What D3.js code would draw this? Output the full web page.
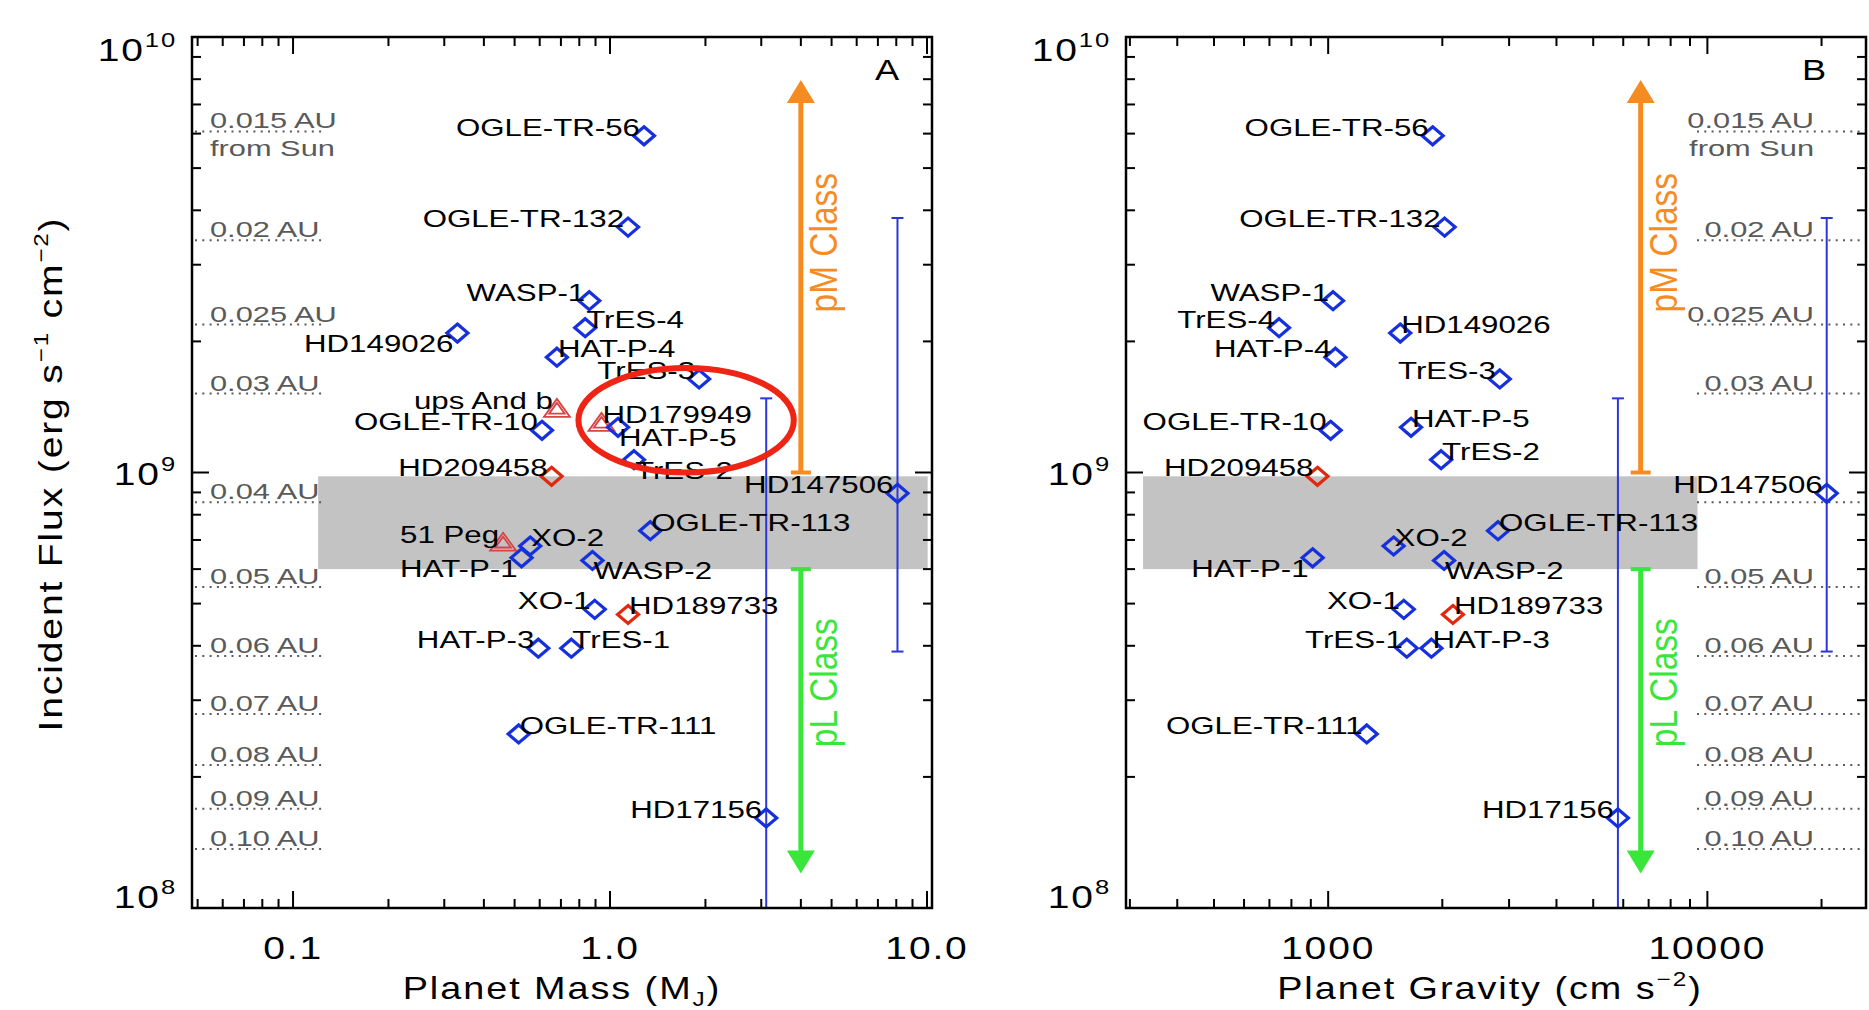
<!DOCTYPE html>
<html>
<head>
<meta charset="utf-8">
<script src="https://cdn.jsdelivr.net/npm/d3@7"></script>
<style>
  body { margin: 0; background: #fff; }
  svg { display: block; }
  text { font-family: "Liberation Sans", Arial, sans-serif; }
</style>
</head>
<body>
<div id="chart"></div>
<script>
// ---- data ----
var names   = ["OGLE-TR-56","OGLE-TR-132","WASP-1","TrES-4","HD149026","HAT-P-4","TrES-3","ups And b","HD179949",
               "OGLE-TR-10","HAT-P-5","TrES-2","HD209458","HD147506","51 Peg","XO-2","HAT-P-1","WASP-2",
               "OGLE-TR-113","XO-1","HD189733","HAT-P-3","TrES-1","OGLE-TR-111","HD17156"];
var mass    = [1.28,1.14,0.86,0.835,0.33,0.68,1.91,0.68,0.94,
               0.61,1.06,1.19,0.654,8.07,0.46,0.56,0.526,0.88,
               1.34,0.895,1.14,0.594,0.755,0.515,3.11];
// no gravity for the radial-velocity planets (triangles)
var gravity = [1886,2028,1030,742,1549,1045,2835,null,null,
               1015,1654,1985,937,20640,null,1488,910,2021,
               2805,1583,2133,1872,1612,1264,5809];
var flux    = [5.93e9,3.66e9,2.48e9,2.15e9,2.09e9,1.84e9,1.64e9,1.40e9,1.30e9,
               1.25e9,1.27e9,1.07e9,9.8e8,8.96e8,6.9e8,6.78e8,6.37e8,6.28e8,
               7.35e8,4.85e8,4.72e8,3.95e8,3.95e8,2.51e8,1.61e8];
// b = blue diamond, r = red diamond, t = red triangle
var kind    = ["b","b","b","b","b","b","b","t","t",
               "b","b","b","r","b","t","b","b","b",
               "b","b","r","b","b","b","b"];

// where each name sits relative to its marker (L left, R right, LB/RB one line lower)
var placeA  = ["L","L","L","R","LB","R","L","L","R",
               "L","RB","RB","L","L","L","R","LB","RB",
               "R","L","R","L","R","R","L"];
var placeB  = ["L","L","L","L","R","L","L","","",
               "L","R","R","L","L","","R","LB","RB",
               "R","L","R","R","L","L","L"];

// flux error bars
var errNames = ["HD17156","HD147506"];
var errHigh  = [1.48e9, 3.84e9];
var errLow   = [1e8, 3.88e8];   // HD17156 bar runs to the bottom axis

// orbital distance reference lines
var auLabels = ["0.015 AU","0.02 AU","0.025 AU","0.03 AU","0.04 AU","0.05 AU",
                "0.06 AU","0.07 AU","0.08 AU","0.09 AU","0.10 AU"];
var auFlux   = [6.07e9,3.415e9,2.186e9,1.518e9,8.54e8,5.46e8,
                3.79e8,2.79e8,2.13e8,1.69e8,1.366e8];

// grey transition band
var bandFlux  = [6.0e8, 9.8e8];
var bandMassA = [0.12, 10.05];
var bandGravB = [325, 9420];

// class arrows
var pmFlux = [1e9, 7.97e9];
var plFlux = [6e8, 1.2e8];
var pmTextFlux = 3.37e9;
var plTextFlux = 3.29e8;
var arrowMass = 4.0;
var arrowGrav = 6670;

// highlighted region in panel A
var ellMass = [0.795, 3.8];
var ellFlux = [1.0e9, 1.738e9];

var W = 1869, H = 1010;
var top_y = 37, bottom_y = 908;

var blue = "#1530dc", red = "#e3280f", triRed = "#d84444",
    errBlue = "#2b38d6", orange = "#f68b1f", green = "#3ae63a",
    grey = "#5a5a5a";

var svg = d3.select("#chart").append("svg")
    .attr("width", W).attr("height", H);

var y = d3.scaleLog().domain([1e8, 1e10]).range([bottom_y, top_y]);

// horizontally stretched text (the original font is much wider than Arial)
function stext(g, x, yy, size, sx, anchor, fill) {
  return g.append("text")
    .attr("transform", "translate(" + x + "," + yy + ") scale(" + sx + ",1)")
    .attr("text-anchor", anchor)
    .style("font-size", size + "px")
    .style("fill", fill || "#000");
}

var panels = [
  { id: "A", left: 192, right: 932, xVals: mass, domain: [0.048, 10.37],
    ticks: [0.1, 1, 10], tickText: ["0.1", "1.0", "10.0"],
    place: placeA, band: bandMassA, arrowX: arrowMass, auSide: "left" },
  { id: "B", left: 1126, right: 1866, xVals: gravity, domain: [293, 26200],
    ticks: [1000, 10000], tickText: ["1000", "10000"],
    place: placeB, band: bandGravB, arrowX: arrowGrav, auSide: "right" }
];

panels.forEach(function(p, pi) {
  var g = svg.append("g");
  var x = d3.scaleLog().domain(p.domain).range([p.left, p.right]);

  // grey band
  g.append("rect")
    .attr("x", x(p.band[0])).attr("width", x(p.band[1]) - x(p.band[0]))
    .attr("y", y(bandFlux[1])).attr("height", y(bandFlux[0]) - y(bandFlux[1]))
    .style("fill", "#c3c3c3");

  // AU lines + labels
  auLabels.forEach(function(lab, i) {
    var yy = y(auFlux[i]);
    var x0 = p.auSide == "left" ? p.left + 3 : p.right - 169;
    var x1 = p.auSide == "left" ? p.left + 132 : p.right;
    g.append("line").attr("x1", x0).attr("x2", x1).attr("y1", yy).attr("y2", yy)
      .style("stroke", grey).style("stroke-width", 2).style("stroke-dasharray", "2,5.3");
    if (p.id == "B" && lab == "0.04 AU") return; // covered by HD147506 label in the original
    var tx = p.auSide == "left" ? p.left + 18 : p.right - 52;
    var an = p.auSide == "left" ? "start" : "end";
    stext(g, tx, yy - 3, 22, 1.4, an, grey).text(lab);
    if (i == 0) stext(g, tx, yy + 25, 22, 1.4, an, grey).text("from Sun");
  });

  // error bars
  errNames.forEach(function(n, i) {
    var k = names.indexOf(n);
    var xx = x(p.xVals[k]);
    g.append("line").attr("x1", xx).attr("x2", xx)
      .attr("y1", y(errHigh[i])).attr("y2", y(errLow[i]))
      .style("stroke", errBlue).style("stroke-width", 2);
    [errHigh[i], errLow[i]].forEach(function(v) {
      if (v <= 1e8) return;
      g.append("line").attr("x1", xx - 6).attr("x2", xx + 6).attr("y1", y(v)).attr("y2", y(v))
        .style("stroke", errBlue).style("stroke-width", 2);
    });
  });

  // class arrows
  var ax = x(p.arrowX);
  function arrow(fl, col) {
    var y0 = y(fl[0]), y1 = y(fl[1]);
    var dir = y1 < y0 ? 1 : -1;
    g.append("line").attr("x1", ax).attr("x2", ax).attr("y1", y0).attr("y2", y1 + dir * 20)
      .style("stroke", col).style("stroke-width", 5);
    g.append("line").attr("x1", ax - 10).attr("x2", ax + 10).attr("y1", y0).attr("y2", y0)
      .style("stroke", col).style("stroke-width", 4);
    g.append("path")
      .attr("d", "M" + ax + "," + y1 + "L" + (ax - 14) + "," + (y1 + dir * 23) + "L" + (ax + 14) + "," + (y1 + dir * 23) + "Z")
      .style("fill", col);
  }
  arrow(pmFlux, orange);
  arrow(plFlux, green);
  g.append("text")
    .attr("transform", "translate(" + (ax + 36) + "," + y(pmTextFlux) + ") rotate(-90) scale(0.88,1)")
    .attr("text-anchor", "middle").style("font-size", "38px").style("fill", orange)
    .text("pM Class");
  g.append("text")
    .attr("transform", "translate(" + (ax + 36) + "," + y(plTextFlux) + ") rotate(-90) scale(0.88,1)")
    .attr("text-anchor", "middle").style("font-size", "38px").style("fill", green)
    .text("pL Class");

  // markers
  names.forEach(function(n, i) {
    if (p.xVals[i] == null) return;
    var xx = x(p.xVals[i]), yy = y(flux[i]);
    if (kind[i] == "t") {
      [1, 0.6].forEach(function(s) {
        g.append("path")
          .attr("d", "M" + xx + "," + (yy - 10 * s) + "L" + (xx - 13 * s) + "," + (yy + 8 * s) + "L" + (xx + 13 * s) + "," + (yy + 8 * s) + "Z")
          .style("fill", "none").style("stroke", triRed).style("stroke-width", 1.8);
      });
    } else {
      g.append("path")
        .attr("d", "M" + xx + "," + (yy - 9) + "L" + (xx + 10.5) + "," + yy + "L" + xx + "," + (yy + 9) + "L" + (xx - 10.5) + "," + yy + "Z")
        .style("fill", "none").style("stroke", kind[i] == "r" ? red : blue).style("stroke-width", 3.2);
    }
  });

  // names
  names.forEach(function(n, i) {
    var pl = p.place[i];
    if (!pl || p.xVals[i] == null) return;
    var xx = x(p.xVals[i]), yy = y(flux[i]);
    var left = pl.charAt(0) == "L";
    var dy = pl.length > 1 ? 19 : 0;
    stext(g, xx + (left ? -4 : 1), yy + dy, 23.5, 1.33, left ? "end" : "start").text(n);
  });

  // red ellipse (panel A only)
  if (p.id == "A") {
    var ex0 = x(ellMass[0]), ex1 = x(ellMass[1]), ey0 = y(ellFlux[1]), ey1 = y(ellFlux[0]);
    g.append("ellipse")
      .attr("cx", (ex0 + ex1) / 2).attr("cy", (ey0 + ey1) / 2)
      .attr("rx", (ex1 - ex0) / 2).attr("ry", (ey1 - ey0) / 2)
      .style("fill", "none").style("stroke", "#ee2414").style("stroke-width", 6);
  }

  // frame and ticks
  g.append("rect").attr("x", p.left).attr("y", top_y)
    .attr("width", p.right - p.left).attr("height", bottom_y - top_y)
    .style("fill", "none").style("stroke", "#000").style("stroke-width", 2.5);

  function isMajor(v) { var l = Math.log10(v); return Math.abs(l - Math.round(l)) < 1e-6; }
  x.ticks().forEach(function(t) {
    var len = isMajor(t) ? 17 : 9, xx = x(t);
    g.append("line").attr("x1", xx).attr("x2", xx).attr("y1", bottom_y).attr("y2", bottom_y - len)
      .style("stroke", "#000").style("stroke-width", 2);
    g.append("line").attr("x1", xx).attr("x2", xx).attr("y1", top_y).attr("y2", top_y + len)
      .style("stroke", "#000").style("stroke-width", 2);
  });
  y.ticks().forEach(function(t) {
    var len = isMajor(t) ? 17 : 9, yy = y(t);
    g.append("line").attr("x1", p.left).attr("x2", p.left + len).attr("y1", yy).attr("y2", yy)
      .style("stroke", "#000").style("stroke-width", 2);
    g.append("line").attr("x1", p.right).attr("x2", p.right - len).attr("y1", yy).attr("y2", yy)
      .style("stroke", "#000").style("stroke-width", 2);
  });

  // x tick labels
  p.ticks.forEach(function(t, i) {
    stext(g, x(t), 959, 32, 1.22, "middle").style("letter-spacing", "1.5px").text(p.tickText[i]);
  });

  // y tick labels 10^n
  [1e8, 1e9, 1e10].forEach(function(t) {
    var yy = Math.min(Math.max(y(t) + 12, top_y + 24), bottom_y);
    var tt = stext(g, p.left - 15, yy, 32, 1.22, "end").style("letter-spacing", "1.5px");
    tt.append("tspan").text("10");
    tt.append("tspan").attr("dy", -14).style("font-size", "21px").text(Math.round(Math.log10(t)));
  });

  // panel letter
  stext(g, (p.id == "A" ? 887 : 1814), 80, 29, 1.25, "middle").text(p.id);
});

// axis titles
var tA = stext(svg, 562, 999, 31, 1.22, "middle").style("letter-spacing", "1.6px");
tA.append("tspan").text("Planet Mass (M");
tA.append("tspan").attr("dy", 7).style("font-size", "20px").text("J");
tA.append("tspan").attr("dy", -7).text(")");

var tB = stext(svg, 1490, 999, 31, 1.22, "middle").style("letter-spacing", "1.6px");
tB.append("tspan").text("Planet Gravity (cm s");
tB.append("tspan").attr("dy", -13).style("font-size", "20px").text("\u22122");
tB.append("tspan").attr("dy", 13).text(")");

var ty = svg.append("text")
  .attr("transform", "translate(62,474) rotate(-90) scale(1.15,1)")
  .attr("text-anchor", "middle").style("font-size", "34px").style("letter-spacing", "1.6px");
ty.append("tspan").text("Incident Flux (erg s");
ty.append("tspan").attr("dy", -14).style("font-size", "21px").text("\u22121");
ty.append("tspan").attr("dy", 14).text(" cm");
ty.append("tspan").attr("dy", -14).style("font-size", "21px").text("\u22122");
ty.append("tspan").attr("dy", 14).text(")");
</script>
</body>
</html>
